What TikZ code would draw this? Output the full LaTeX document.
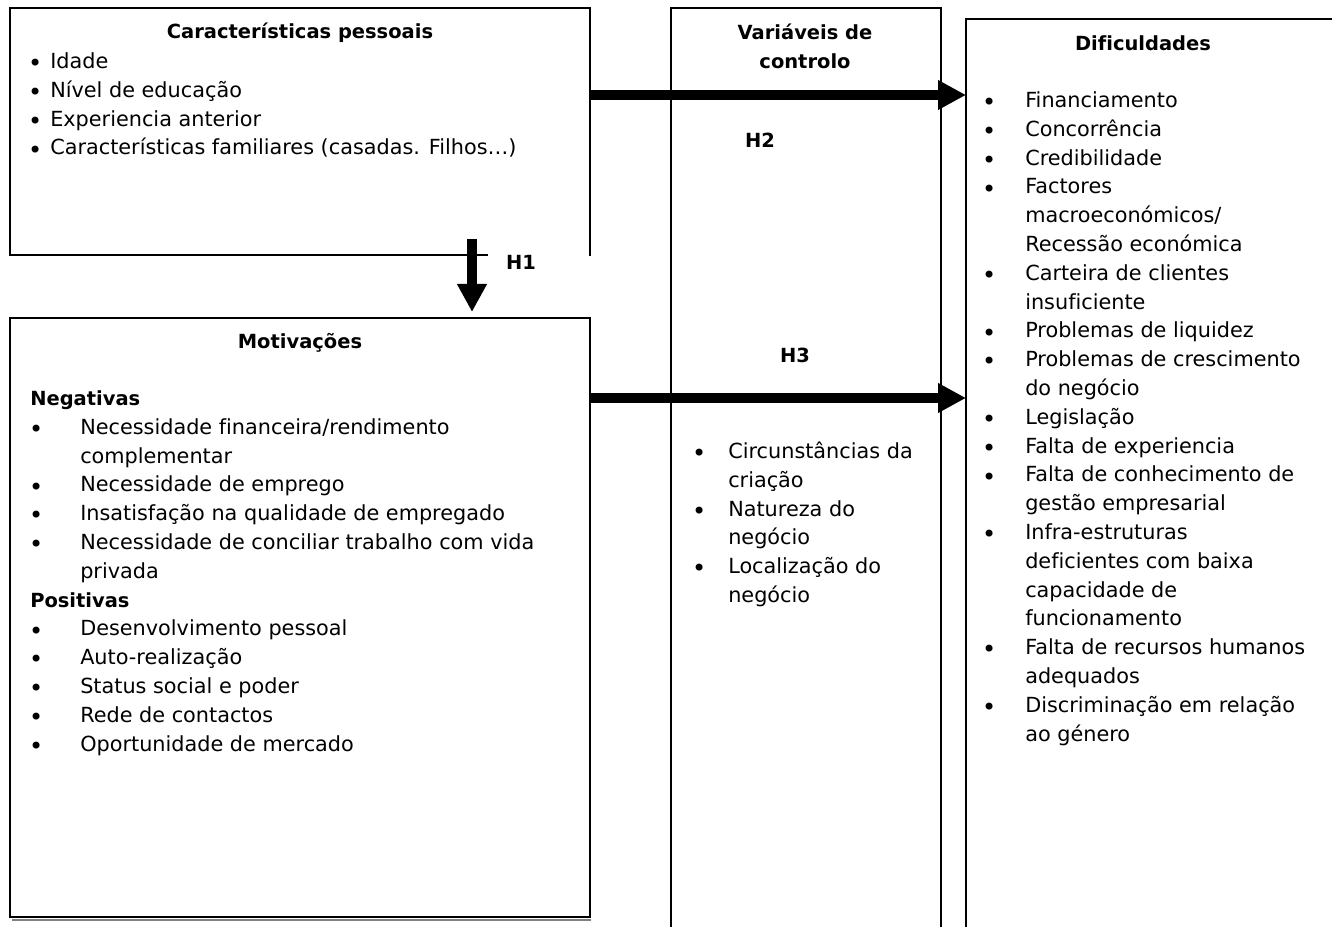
\documentclass[tikz,border=0pt]{standalone}
\usepackage{fontspec}
\setmainfont{DejaVu Sans}[Ligatures={NoCommon}]
\usepackage{array}
\usetikzlibrary{arrows.meta}
\newcommand{\blt}{\raisebox{-2.5pt}{\fontsize{18}{18}\selectfont\textbullet}}
\tikzset{
  boxline/.style={line width=1.5pt, line join=miter, line cap=rect},
  bigarrow/.style={line width=7pt, -{Triangle[length=21pt,width=21pt]}},
  txt/.style={inner sep=0pt, font=\fontsize{15.6}{21.6}\selectfont},
  ttl/.style={inner sep=0pt, font=\fontsize{14.6}{21.6}\selectfont\bfseries},
}
\begin{document}
\begin{tikzpicture}[x=0.75pt, y=-0.75pt]
\useasboundingbox (0,0) rectangle (1332,927);
\fill[white] (0,0) rectangle (1332,927);

% boxes
\draw[boxline] (487,255) -- (10,255) -- (10,8) -- (590,8) -- (590,255);
\draw[boxline] (10,318) rectangle (590,917);
\draw[gray, line width=1pt] (12,920) -- (591,920);
\draw[boxline] (671,927) -- (671,8) -- (941,8) -- (941,927);
\draw[boxline] (1332,19) -- (966,19) -- (966,927);

% arrow end points
\coordinate (b1east) at (590,95);
\coordinate (difH2) at (966,95);
\coordinate (b2east) at (590,398);
\coordinate (difH3) at (966,398);
\coordinate (b1south) at (472,239);
\coordinate (b2north) at (472,312);

\draw[bigarrow] (b1east) -- (difH2);
\draw[bigarrow] (b2east) -- (difH3);
\draw[bigarrow] (b1south) -- (b2north);

% titles
\node[ttl, anchor=base] (t1) at (300,39) {Características pessoais};
\node[ttl, anchor=base] (t2) at (300,349) {Motivações};
\node[ttl, anchor=north] (t3) at (805,19) {\begin{tabular}{@{}c@{}}Variáveis de\\controlo\end{tabular}};
\node[ttl, anchor=base] (t4) at (1143,51) {Dificuldades};

% hypothesis labels
\node[ttl, anchor=base] (h1) at (521,270) {H1};
\node[ttl, anchor=base] (h2) at (760,148) {H2};
\node[ttl, anchor=base] (h3) at (795,363) {H3};

% lists
\node[txt, anchor=north west] (l1) at (28,48) {\begin{tabular}{@{}w{c}{10.5pt}@{\hspace{6pt}}l@{}}
\blt & Idade\\
\blt & Nível de educação\\
\blt & Experiencia anterior\\
\blt & Características familiares (casadas. Filhos…)
\end{tabular}};

\node[txt, anchor=north west] (l2) at (30,385) {\begin{tabular}{@{}w{c}{9pt}@{\hspace{28.5pt}}l@{}}
\multicolumn{2}{@{}l@{}}{\fontsize{14.6}{21.6}\selectfont\bfseries Negativas}\\
\blt & Necessidade financeira/rendimento\\
 & complementar\\
\blt & Necessidade de emprego\\
\blt & Insatisfação na qualidade de empregado\\
\blt & Necessidade de conciliar trabalho com vida\\
 & privada\\
\multicolumn{2}{@{}l@{}}{\fontsize{14.6}{21.6}\selectfont\bfseries Positivas}\\
\blt & Desenvolvimento pessoal\\
\blt & Auto-realização\\
\blt & Status social e poder\\
\blt & Rede de contactos\\
\blt & Oportunidade de mercado
\end{tabular}};

\node[txt, anchor=north west] (l3) at (692,438) {\begin{tabular}{@{}w{c}{10.5pt}@{\hspace{16.5pt}}l@{}}
\blt & Circunstâncias da\\
 & criação\\
\blt & Natureza do\\
 & negócio\\
\blt & Localização do\\
 & negócio
\end{tabular}};

\node[txt, anchor=north west] (l4) at (982,87) {\begin{tabular}{@{}w{c}{10.5pt}@{\hspace{21.75pt}}l@{}}
\blt & Financiamento\\
\blt & Concorrência\\
\blt & Credibilidade\\
\blt & Factores\\
 & macroeconómicos/\\
 & Recessão económica\\
\blt & Carteira de clientes\\
 & insuficiente\\
\blt & Problemas de liquidez\\
\blt & Problemas de crescimento\\
 & do negócio\\
\blt & Legislação\\
\blt & Falta de experiencia\\
\blt & Falta de conhecimento de\\
 & gestão empresarial\\
\blt & Infra-estruturas\\
 & deficientes com baixa\\
 & capacidade de\\
 & funcionamento\\
\blt & Falta de recursos humanos\\
 & adequados\\
\blt & Discriminação em relação\\
 & ao género
\end{tabular}};
\end{tikzpicture}
\end{document}
